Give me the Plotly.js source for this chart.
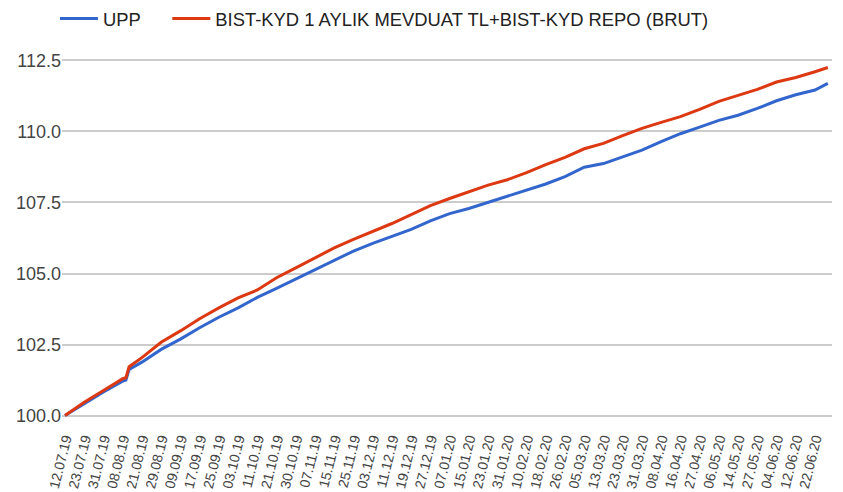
<!DOCTYPE html>
<html>
<head>
<meta charset="utf-8">
<script src="https://cdn.plot.ly/plotly-3.0.1.min.js"></script>
<style>html,body{margin:0;padding:0;background:#fff;}#chart{width:843px;height:492px;}</style>
</head>
<body>
<div id="chart"></div>
<script>
// tick labels (every 6th trading day)
const tickLabels = ["12.07.19","23.07.19","31.07.19","08.08.19","21.08.19","29.08.19","09.09.19","17.09.19","25.09.19","03.10.19","11.10.19","21.10.19","30.10.19","07.11.19","15.11.19","25.11.19","03.12.19","11.12.19","19.12.19","27.12.19","07.01.20","15.01.20","23.01.20","31.01.20","10.02.20","18.02.20","26.02.20","05.03.20","13.03.20","23.03.20","31.03.20","08.04.20","16.04.20","27.04.20","06.05.20","14.05.20","27.05.20","04.06.20","12.06.20","22.06.20"];
// trading-day index of each tick label
const tickDays = [0,6,12,18,24,30,36,42,48,54,60,66,72,78,84,90,96,102,108,114,120,126,132,138,144,150,156,162,168,174,180,186,192,198,204,210,216,222,228,234];
// trading-day index of each sampled point (incl. holiday step and series end)
const tradingDay = [0,6,12,18,19,20,24,30,36,42,48,54,60,66,72,78,84,90,96,102,108,114,120,126,132,138,144,150,156,162,168,174,180,186,192,198,204,210,216,222,228,234,238];
// series values
const upp  = [100.00,100.42,100.83,101.21,101.25,101.62,101.88,102.33,102.69,103.09,103.46,103.79,104.16,104.48,104.81,105.13,105.46,105.79,106.06,106.30,106.55,106.85,107.11,107.29,107.50,107.71,107.92,108.15,108.41,108.74,108.87,109.11,109.34,109.64,109.92,110.15,110.39,110.57,110.81,111.08,111.29,111.46,111.69];
const bist = [100.00,100.47,100.88,101.30,101.33,101.72,102.04,102.58,102.98,103.41,103.79,104.14,104.42,104.85,105.20,105.55,105.90,106.20,106.48,106.76,107.07,107.39,107.64,107.88,108.11,108.30,108.55,108.83,109.09,109.39,109.58,109.85,110.11,110.32,110.52,110.78,111.06,111.27,111.48,111.74,111.90,112.10,112.25];
const yTicks = [100, 102.5, 105, 107.5, 110, 112.5];

const traces = [
  {x: tradingDay, y: upp, type: 'scatter', mode: 'lines', name: 'UPP',
   line: {color: '#3366cc', width: 3}, legend: 'legend'},
  {x: tradingDay, y: bist, type: 'scatter', mode: 'lines', name: 'BIST-KYD 1 AYLIK MEVDUAT TL+BIST-KYD REPO (BRUT)',
   line: {color: '#dc3912', width: 3}, legend: 'legend2'}
];

const legendBase = {orientation: 'h', xref: 'container', yref: 'container', y: 1.0,
  xanchor: 'left', yanchor: 'top', font: {size: 18.4, color: '#222'},
  itemwidth: 38, bgcolor: 'rgba(0,0,0,0)'};

const layout = {
  width: 843, height: 492,
  margin: {l: 62, r: 11, t: 59, b: 75, pad: 0},
  paper_bgcolor: '#fff', plot_bgcolor: '#fff',
  font: {family: 'Liberation Sans, Arial, sans-serif', size: 18, color: '#444'},
  showlegend: true,
  legend: Object.assign({}, legendBase, {x: 0.0652}),
  legend2: Object.assign({}, legendBase, {x: 0.1985}),
  xaxis: {
    type: 'linear', range: [-0.936, 239.3],
    tickmode: 'array', tickvals: tickDays, ticktext: tickLabels,
    tickangle: -76, tickfont: {size: 14, color: '#444'}, ticklabelstandoff: 10,
    showgrid: false, zeroline: false, showline: false, ticks: '',
    fixedrange: true
  },
  yaxis: {
    range: [99.95, 112.55],
    tickmode: 'array', tickvals: yTicks, ticktext: yTicks.map(v => v.toFixed(1)),
    tickfont: {size: 18, color: '#444'},
    showgrid: true, gridcolor: '#cccccc', gridwidth: 2,
    zeroline: false, showline: false, ticks: '', fixedrange: true
  }
};

Plotly.newPlot('chart', traces, layout, {displayModeBar: false, staticPlot: true});
</script>
</body>
</html>
